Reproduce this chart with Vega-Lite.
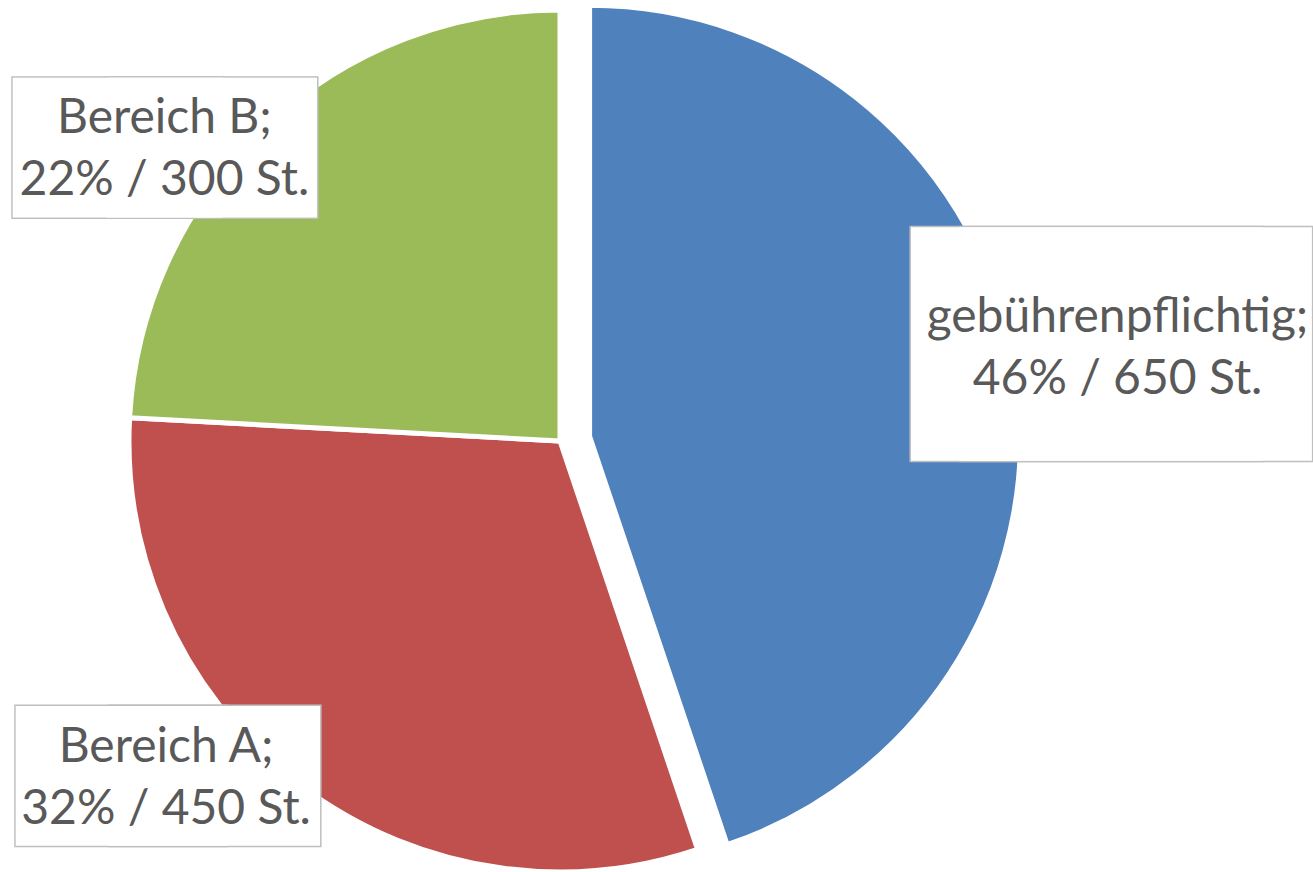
{
  "$schema": "https://vega.github.io/schema/vega-lite/v6.json",
  "width": 1120,
  "height": 862,
  "autosize": {"type": "none"},
  "padding": {"left": 0, "top": 10, "right": 193, "bottom": 0},
  "background": "white",
  "config": {"view": {"stroke": null}},
  "data": {
    "values": [
      {"Kategorie": "gebührenpflichtig", "Anzahl": 650, "Beschriftung": "gebührenpflichtig;\n46% / 650 St."},
      {"Kategorie": "Bereich A", "Anzahl": 450, "Beschriftung": "Bereich A;\n32% / 450 St."},
      {"Kategorie": "Bereich B", "Anzahl": 350, "Beschriftung": "Bereich B;\n22% / 300 St."}
    ]
  },
  "encoding": {
    "theta": {"field": "Anzahl", "type": "quantitative", "stack": true},
    "order": {"field": "Anzahl", "type": "quantitative", "sort": "descending"},
    "color": {
      "field": "Kategorie",
      "type": "nominal",
      "scale": {"domain": ["gebührenpflichtig", "Bereich A", "Bereich B"], "range": ["#4F81BD", "#C0504D", "#9BBB59"]},
      "legend": null
    }
  },
  "layer": [
    {
      "mark": {"type": "arc", "stroke": "white", "strokeWidth": 5},
      "encoding": {
        "opacity": {"condition": {"test": "datum.Kategorie === 'gebührenpflichtig'", "value": 0}, "value": 1}
      }
    },
    {
      "mark": {"type": "arc", "stroke": "white", "strokeWidth": 5, "xOffset": 29.6, "yOffset": -4.7},
      "encoding": {
        "opacity": {"condition": {"test": "datum.Kategorie === 'gebührenpflichtig'", "value": 1}, "value": 0}
      }
    },
    {
      "mark": {
        "type": "text", "radius": 565, "font": "DejaVu Sans", "angle": 90, "align": "center", "baseline": "middle",
        "fontSize": {"expr": "datum.Kategorie === 'gebührenpflichtig' ? 296 : 177"},
        "strokeWidth": 3,
        "dx": {"expr": "datum.Kategorie === 'Bereich A' ? -115 : datum.Kategorie === 'Bereich B' ? 116.7 : -5.6"},
        "dy": {"expr": "datum.Kategorie === 'Bereich A' ? 105.3 : datum.Kategorie === 'Bereich B' ? 61.3 : 43.6"}
      },
      "encoding": {"text": {"value": "█"}, "fill": {"value": "white"}, "stroke": {"value": "#BFBFBF"}}
    },
    {
      "mark": {
        "type": "text", "radius": 565, "font": "DejaVu Sans", "angle": 90, "align": "center", "baseline": "middle",
        "fontSize": {"expr": "datum.Kategorie === 'gebührenpflichtig' ? 296 : 177"},
        "strokeWidth": 3,
        "dx": {"expr": "datum.Kategorie === 'Bereich A' ? -115 : datum.Kategorie === 'Bereich B' ? 116.7 : -5.6"},
        "dy": {"expr": "datum.Kategorie === 'Bereich A' ? 10.6 : datum.Kategorie === 'Bereich B' ? -32.4 : -5.7"}
      },
      "encoding": {"text": {"value": "█"}, "fill": {"value": "white"}, "stroke": {"value": "#BFBFBF"}}
    },
    {
      "mark": {
        "type": "text", "radius": 565, "font": "DejaVu Sans", "angle": 90, "align": "center", "baseline": "middle",
        "fontSize": {"expr": "datum.Kategorie === 'gebührenpflichtig' ? 296 : 177"},
        "dx": {"expr": "datum.Kategorie === 'Bereich A' ? -115 : datum.Kategorie === 'Bereich B' ? 116.7 : -5.6"},
        "dy": {"expr": "datum.Kategorie === 'Bereich A' ? 105.3 : datum.Kategorie === 'Bereich B' ? 61.3 : 43.6"}
      },
      "encoding": {"text": {"value": "█"}, "fill": {"value": "white"}}
    },
    {
      "mark": {
        "type": "text", "radius": 565, "font": "DejaVu Sans", "angle": 90, "align": "center", "baseline": "middle",
        "fontSize": {"expr": "datum.Kategorie === 'gebührenpflichtig' ? 296 : 177"},
        "dx": {"expr": "datum.Kategorie === 'Bereich A' ? -115 : datum.Kategorie === 'Bereich B' ? 116.7 : -5.6"},
        "dy": {"expr": "datum.Kategorie === 'Bereich A' ? 10.6 : datum.Kategorie === 'Bereich B' ? -32.4 : -5.7"}
      },
      "encoding": {"text": {"value": "█"}, "fill": {"value": "white"}}
    },
    {
      "mark": {
        "type": "text",
        "radius": 565,
        "lineBreak": "\n",
        "lineHeight": 62,
        "font": "Lato",
        "fontSize": 48,
        "align": "center",
        "baseline": "middle",
        "dx": {"expr": "datum.Kategorie === 'Bereich A' ? -52 : datum.Kategorie === 'Bereich B' ? -7 : 0"},
        "dy": {"expr": "datum.Kategorie === 'Bereich A' ? -143 : datum.Kategorie === 'Bereich B' ? 88 : -32"}
      },
      "encoding": {
        "text": {"field": "Beschriftung", "type": "nominal"},
        "fill": {"value": "#595959"}
      }
    }
  ]
}
